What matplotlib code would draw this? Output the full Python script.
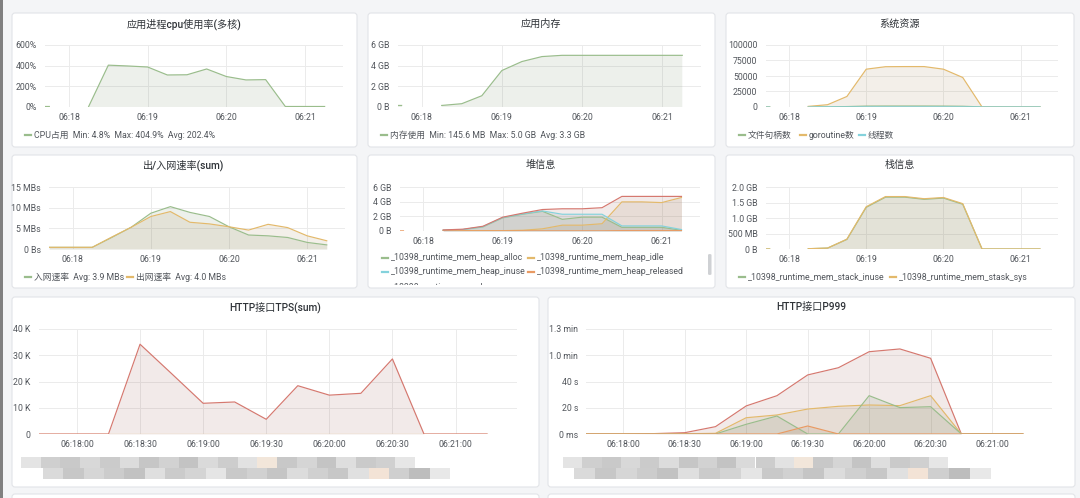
import numpy as np
import matplotlib
matplotlib.use("Agg")
import matplotlib.pyplot as plt
from matplotlib.patches import FancyBboxPatch, Rectangle
from matplotlib.lines import Line2D
from matplotlib.ticker import FuncFormatter
from matplotlib.colors import to_rgb

plt.rcParams['font.family'] = ['Roboto', 'Noto Sans CJK SC', 'DejaVu Sans']

nan = np.nan

# ---- data ----
TIMES = ["06:17:42", "06:17:45", "06:18:00", "06:18:15", "06:18:30", "06:18:45",
         "06:19:00", "06:19:15", "06:19:30", "06:19:45", "06:20:00", "06:20:15",
         "06:20:30", "06:20:45", "06:21:00", "06:21:15"]

cpu = [5, 5, nan, 5, 405, 397, 387, 310, 312, 368, 295, 262, 265, 5, 5, 5]
mem_gb = [0.15, 0.15, nan, 0.15, 0.32, 1.09, 3.53, 4.4, 4.88, 5.0, 5.0, 5.0, 5.0, 5.0, 5.0, 5.0]

fd_count = [100, 100, nan, 100, 300, 700, 1500, 1600, 1600, 1600, 1500, 1200, 150, 120, 120, 120]
goroutines = [20, 20, nan, 1000, 3700, 17000, 61000, 65000, 65200, 65200, 61000, 47600, 30, 30, 30, 30]
threads = [15, 15, nan, 30, 40, 60, 80, 90, 90, 90, 90, 90, 80, 80, 80, 80]

net_in = [0.4, 0.4, 0.4, 0.4, 2.8, 5.3, 8.7, 10.3, 8.9, 7.9, 5.4, 3.4, 3.2, 2.8, 1.6, 1.0]
net_out = [0.4, 0.4, 0.4, 0.4, 2.9, 5.3, 7.9, 9.1, 6.5, 6.1, 5.4, 4.6, 6.0, 5.2, 3.2, 2.0]

heap_alloc = [nan, nan, nan, 0.1, 0.2, 0.55, 1.8, 2.3, 2.7, 1.6, 1.9, 1.9, 0.5, 0.5, 0.5, 0.1]
heap_idle = [nan, nan, nan, 0.05, 0.05, 0.05, 0.05, 0.1, 0.3, 0.8, 0.8, 1.0, 4.0, 4.0, 3.9, 4.6]
heap_inuse = [nan, nan, nan, 0.1, 0.2, 0.6, 1.85, 2.35, 2.75, 2.3, 2.3, 2.3, 0.7, 0.7, 0.7, 0.2]
heap_released = [0.02, 0.02, nan, 0.02, 0.02, 0.02, 0.02, 0.02, 0.02, 0.02, 0.02, 0.02, 0.05, 0.05, 0.05, 0.05]
heap_sys = [nan, nan, nan, 0.15, 0.25, 0.65, 1.9, 2.45, 2.95, 3.05, 3.05, 3.2, 4.75, 4.75, 4.75, 4.75]

stack_inuse = [0, 0, nan, 0.01, 0.03, 0.31, 1.35, 1.68, 1.68, 1.61, 1.65, 1.45, 0.0, 0.0, 0.0, 0.0]
stack_sys = [0, 0, nan, 0.01, 0.03, 0.32, 1.37, 1.70, 1.70, 1.63, 1.67, 1.47, 0.0, 0.0, 0.0, 0.0]

tps_k = [0, 0, 0, 0, 34.2, 23.0, 11.7, 12.2, 5.6, 18.4, 14.8, 15.5, 28.6, 0, 0, 0]
tps_other = [0] * 16

p999_red = [0, 0, 0, 0.3, 1.0, 5.6, 21.4, 29.2, 45.0, 50.5, 62.7, 64.8, 57.7, 0, 0, 0]
p999_yel = [0, 0, 0, 0, 0.2, 0.5, 12.4, 14.5, 19.0, 21.1, 22.1, 21.6, 29.2, 0, 0, 0]
p999_grn = [0, 0, 0, 0, 0, 0, 7.4, 13.7, 0, 0, 29.2, 20.1, 20.8, 0, 0, 0]
p999_org = [0, 0, 0, 0, 0, 0, 0, 0, 6.1, 0, 0, 0, 0, 0, 0, 0]

# grafana palette, a bit washed out like the screenshot
GREEN, YELLOW, CYAN, ORANGE, RED = "#9abd8c", "#e3b96b", "#84d2dc", "#e99a62", "#d5786f"
BG = "#f4f5f7"
TXT = "#52565c"
TITLE = "#2f3338"


def to_sec(s):
    h, m, x = map(int, s.split(":"))
    return h * 3600 + m * 60 + x - (6 * 3600 + 18 * 60)


t = np.array([to_sec(s) for s in TIMES], dtype=float)

W, H = 1080, 498
fig = plt.figure(figsize=(W / 100, H / 100), dpi=100, facecolor=BG)


def fx(px):
    return px / W


def fy(py):
    return 1 - py / H


def panel(x0, y0, x1, y1):
    p = FancyBboxPatch((x0 / 100, (H - y1) / 100), (x1 - x0) / 100, (y1 - y0) / 100,
                       boxstyle="round,pad=0,rounding_size=0.03",
                       transform=fig.dpi_scale_trans, facecolor="white",
                       edgecolor="#e2e4e8", lw=0.8, zorder=-5)
    fig.add_artist(p)
    return p


def make_axes(left, right, top, bottom, ylim, yfmt, yticks, long_time=False):
    ax = fig.add_axes([fx(left), fy(bottom), fx(right) - fx(left), (bottom - top) / H])
    ax.set_facecolor("none")
    ax.set_xlim(-18, 209)
    ax.set_ylim(*ylim)
    for s in ax.spines.values():
        s.set_visible(False)
    if long_time:
        xt = [0, 30, 60, 90, 120, 150, 180]
        xl = ["06:%02d:%02d" % (18 + v // 60, v % 60) for v in xt]
    else:
        xt = [0, 60, 120, 180]
        xl = ["06:%02d" % (18 + v // 60) for v in xt]
    ax.set_xticks(xt)
    ax.set_xticklabels(xl)
    ax.set_yticks(yticks)
    ax.yaxis.set_major_formatter(FuncFormatter(yfmt))
    ax.tick_params(length=0, labelsize=6.3, colors=TXT)
    ax.tick_params(axis="y", pad=6)
    ax.tick_params(axis="x", pad=4)
    ax.grid(True, color="#ebebeb", lw=0.7)
    ax.set_axisbelow(True)
    return ax


def series(ax, y, color, lw=0.85):
    y = np.array(y, dtype=float)
    dark = tuple(c * 0.7 for c in to_rgb(color))
    ax.fill_between(t, y, 0, color=dark, alpha=0.12, lw=0)
    ax.plot(t, y, color=color, lw=lw)


def title(x, y, s):
    fig.text(fx(x), fy(y), s, ha="center", va="center", fontsize=7.3,
             color=TITLE, fontweight="medium")


def legend_item(x, y, color, s, clip=None):
    ln = Line2D([fx(x), fx(x + 6)], [fy(y), fy(y)], transform=fig.transFigure,
                color=color, lw=1.6)
    fig.add_artist(ln)
    tx = fig.text(fx(x + 9), fy(y), s, ha="left", va="center", fontsize=6.3, color=TXT)
    if clip is not None:
        ln.set_clip_path(clip)
        tx.set_clip_path(clip)


# left dark strip of the screenshot
fig.add_artist(Rectangle((0, 0), 3 / W, 1, transform=fig.transFigure,
                         facecolor="#808080", lw=0, zorder=-6))

# ---- panels ----
panel(12, 13, 357, 147)
panel(368, 13, 715, 147)
panel(726, 13, 1074, 147)
panel(12, 155, 357, 288)
panel(368, 155, 715, 288)
panel(726, 155, 1074, 288)
panel(12, 297, 539, 487)
panel(548, 297, 1075, 487)
panel(12, 494, 539, 530)
panel(548, 494, 1075, 530)

# 1. CPU
title(184, 24, "应用进程cpu使用率(多核)")
ax = make_axes(45.4, 343, 45, 107, (0, 600), lambda v, p: "%d%%" % v, [0, 200, 400, 600])
series(ax, cpu, GREEN)
legend_item(25, 135, GREEN, "CPU占用  Min: 4.8%  Max: 404.9%  Avg: 202.4%")

# 2. memory
title(541, 24, "应用内存")
ax = make_axes(397.6, 701, 45, 107, (0, 6), lambda v, p: "0 B" if v == 0 else "%d GB" % v, [0, 2, 4, 6])
series(ax, mem_gb, GREEN)
legend_item(381, 135, GREEN, "内存使用  Min: 145.6 MB  Max: 5.0 GB  Avg: 3.3 GB")

# 3. system resources
title(900, 24, "系统资源")
ax = make_axes(765.8, 1058, 45, 107, (0, 100000), lambda v, p: "%d" % v,
               [0, 25000, 50000, 75000, 100000])
series(ax, fd_count, GREEN)
series(ax, goroutines, YELLOW)
series(ax, threads, CYAN)
legend_item(739, 135, GREEN, "文件句柄数")
legend_item(800, 135, YELLOW, "goroutine数")
legend_item(859, 135, CYAN, "线程数")

# 4. network
title(184, 165, "出/入网速率(sum)")
ax = make_axes(49.2, 345, 187.3, 249, (0, 15), lambda v, p: "0 Bs" if v == 0 else "%d MBs" % v,
               [0, 5, 10, 15])
series(ax, net_in, GREEN)
series(ax, net_out, YELLOW)
legend_item(25, 277, GREEN, "入网速率  Avg: 3.9 MBs")
legend_item(127, 277, YELLOW, "出网速率  Avg: 4.0 MBs")

# 5. heap
title(541, 165, "堆信息")
ax = make_axes(399.5, 700, 187.3, 231, (0, 6), lambda v, p: "0 B" if v == 0 else "%d GB" % v,
               [0, 2, 4, 6])
series(ax, heap_alloc, GREEN)
series(ax, heap_idle, YELLOW)
series(ax, heap_inuse, CYAN)
series(ax, heap_released, ORANGE)
series(ax, heap_sys, RED)
clip = Rectangle((fx(370), fy(285)), fx(330), (285 - 245) / H, transform=fig.transFigure,
                 visible=False)
fig.add_artist(clip)
legend_item(382, 258, GREEN, "_10398_runtime_mem_heap_alloc", clip)
legend_item(528, 258, YELLOW, "_10398_runtime_mem_heap_idle", clip)
legend_item(382, 272, CYAN, "_10398_runtime_mem_heap_inuse", clip)
legend_item(528, 272, ORANGE, "_10398_runtime_mem_heap_released", clip)
legend_item(382, 288, RED, "_10398_runtime_mem_heap_sys", clip)
fig.add_artist(FancyBboxPatch((fx(708), fy(275)), fx(3.5), 21 / H,
                              boxstyle="round,pad=0,rounding_size=0.002",
                              transform=fig.transFigure, facecolor="#cfd1d4", lw=0))

# 6. stack
title(900, 165, "栈信息")
ax = make_axes(765.8, 1058, 187.3, 249, (0, 2),
               lambda v, p: "0 B" if v == 0 else ("500 MB" if v == 0.5 else "%.1f GB" % v),
               [0, 0.5, 1.0, 1.5, 2.0])
series(ax, stack_inuse, GREEN)
series(ax, stack_sys, YELLOW)
legend_item(739, 277, GREEN, "_10398_runtime_mem_stack_inuse")
legend_item(890, 277, YELLOW, "_10398_runtime_mem_stask_sys")

# 7. HTTP TPS
title(275, 307, "HTTP接口TPS(sum)")
ax = make_axes(39.1, 516.5, 329, 434, (0, 40), lambda v, p: "0" if v == 0 else "%d K" % v,
               [0, 10, 20, 30, 40], long_time=True)
series(ax, tps_k, RED)
series(ax, tps_other, YELLOW)

# 8. HTTP P999
title(811, 307, "HTTP接口P999")
ax = make_axes(586.4, 1051.5, 329, 434, (0, 80),
               lambda v, p: "0 ms" if v == 0 else ("%d s" % v if v < 60 else "%.1f min" % (v / 60)),
               [0, 20, 40, 60, 80], long_time=True)
series(ax, p999_red, RED)
series(ax, p999_yel, YELLOW)
series(ax, p999_grn, GREEN)
series(ax, p999_org, ORANGE)

# blurred (pixelated) legends of the HTTP panels
row_a = ["#e4e4e4", "#cfcfcf", "#c9c9c9", "#d8d8d8", "#cbcbcb", "#dcdcdc", "#c6c6c6",
         "#d2d2d2", "#c3c3c3", "#dadada", "#cdcdcd", "#e2e2e2", "#f2e6da", "#c8c8c8",
         "#d5d5d5", "#c4c4c4", "#dedede", "#cacaca", "#d0d0d0", "#e6e6e6"]
row_b = ["#dadada", "#c7c7c7", "#d6d6d6", "#cccccc", "#c2c2c2", "#dfdfdf", "#cbcbcb",
         "#d4d4d4", "#e5e5e5", "#c9c9c9", "#d1d1d1", "#c5c5c5", "#dcdcdc", "#d0d0d0",
         "#c7c7c7", "#e0e0e0", "#f3e3d6", "#cfcfcf", "#bdbdbd", "#e8e8e8"]


def blur_legend(xa0, xa1, xb0, xb1, y0):
    wa = (xa1 - xa0) / len(row_a)
    for i, c in enumerate(row_a):
        fig.add_artist(Rectangle((fx(xa0 + i * wa), fy(y0 + 11)), wa / W, 11 / H,
                                 transform=fig.transFigure, facecolor=c, lw=0))
    wb = (xb1 - xb0) / len(row_b)
    for i, c in enumerate(row_b):
        fig.add_artist(Rectangle((fx(xb0 + i * wb), fy(y0 + 22)), wb / W, 11 / H,
                                 transform=fig.transFigure, facecolor=c, lw=0))


blur_legend(21, 415, 43, 450, 457)
blur_legend(563, 948, 574, 991, 457)

fig.savefig("out.png", dpi=100, facecolor=BG)
